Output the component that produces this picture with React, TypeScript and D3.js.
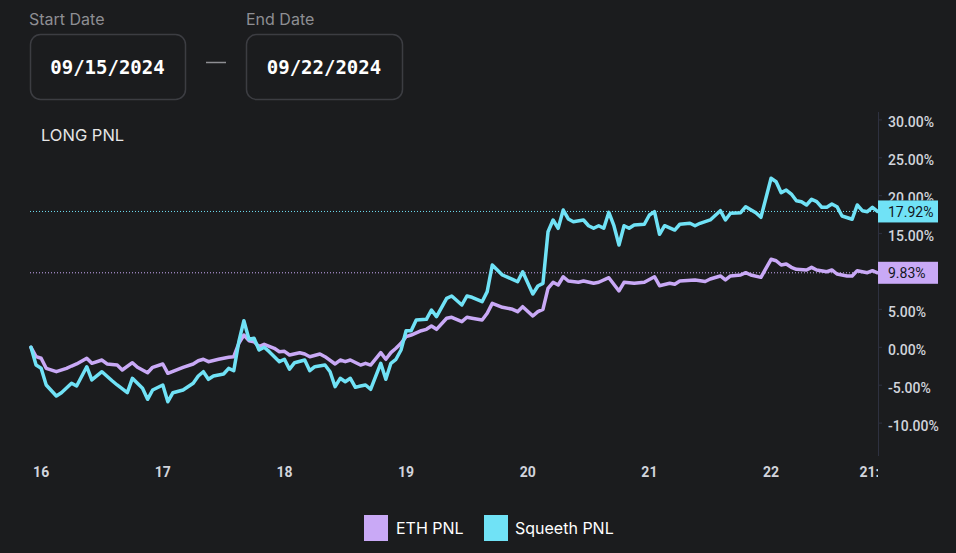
import React from "react";
import * as d3 from "d3";

// Hours since 2024-09-15 00:00 UTC, and PNL values in percent
const ethHours = [22,23,24,25,27,29,30,31,33,34,36,37,39,40,42,43,45,46,48,49,51,52,54,55,56,57,59,61,62,63,64,65,66,67,68,70,71,72,73,75,76,77,79,80,82,83,84,85,87,88,89,91,92,93,94,95,96,97,99,100,101,102,104,105,107,108,109,111,112,113,115,117,118,119,121,122,123,124,125,126,127,128,130,131,133,134,136,138,139,141,143,145,146,148,149,150,153,155,156,158,159,160,162,163,164,166,168,169,170,171,172,173,175,176,177,179,180,181,183,184,185,187,188,189];
const ethPnl = [0,-1.24,-1.45,-2.77,-3.22,-2.77,-2.47,-2.2,-1.45,-2.11,-1.68,-2.2,-2.34,-2.99,-2.03,-2.64,-3.35,-2.64,-2.2,-3.43,-2.9,-2.64,-2.2,-1.77,-1.58,-1.9,-1.58,-1.32,-1.24,0.53,1.62,0.87,0.74,0.08,0.4,-0.13,-0.58,-0.53,-1.02,-0.71,-0.88,-1.24,-0.88,-1.24,-2.2,-1.68,-1.9,-1.68,-2.34,-2.11,-2.34,-0.71,-1.58,-0.71,-0.13,0.53,1.4,1.62,2.19,2.37,2.81,2.37,3.83,3.96,3.38,3.96,3.83,3.6,4.49,5.8,5.28,5.01,4.7,5.36,4.13,4.7,5.01,7.78,8.58,8.22,9.31,8.75,8.58,8.75,8.44,8.58,9.18,7.43,8.58,8.44,8.58,9.31,8.13,8.44,8.31,8.75,8.88,8.68,9.01,9.41,8.88,9.41,9.54,9.84,9.54,9.23,11.61,11.42,10.86,10.99,10.55,10.29,10.2,10.55,10.2,9.97,10.2,9.67,9.41,9.41,10.11,9.84,10.11,9.83];

const sqHours = [22,23,24,25,27,28,30,31,33,34,36,38,39,41,42,44,45,46,48,49,50,52,54,55,56,57,58,60,61,62,63,64,65,66,67,68,69,71,72,73,74,76,77,78,80,81,82,83,84,85,86,87,88,89,91,92,93,94,95,96,97,98,100,101,102,104,105,107,108,109,111,112,113,115,117,118,119,121,122,123,124,125,126,127,128,129,131,132,133,134,135,136,137,138,139,140,141,143,144,145,146,147,149,150,152,153,154,156,158,159,160,162,163,165,166,168,169,170,171,172,173,174,175,176,177,178,179,180,181,182,184,185,186,187,188,189];
const sqPnl = [0,-2.34,-2.77,-4.97,-6.42,-5.99,-4.75,-5.11,-2.56,-4.31,-3.22,-4.41,-4.97,-5.99,-4.09,-5.41,-6.86,-5.63,-4.97,-7.18,-5.99,-5.63,-4.75,-3.79,-3.22,-4.22,-3.79,-3.52,-2.77,-3.09,0.74,3.51,1.06,1.19,-0.36,0,-0.58,-1.9,-1.58,-2.9,-2.03,-1.68,-3.09,-2.56,-2.34,-3.22,-5.2,-4.09,-4.54,-4.09,-5.28,-5.11,-4.97,-5.54,-2.11,-4.22,-2.11,-1.58,-0.36,2.19,2.19,3.6,3.69,4.92,4.04,6.46,6.77,5.58,6.77,6.6,6.02,7.34,10.86,9.54,8.97,8.65,9.97,7.03,8.09,8.44,15.25,16.79,15.7,18.11,16.93,16.57,16.79,16.04,15.7,16.04,15.7,17.81,16.04,13.5,16.04,15.7,16.13,16.23,17.45,17.89,14.91,16.04,15.47,16.23,16.36,16.04,16.36,16.8,18.02,16.79,17.68,17.76,18.55,17.76,17.15,22.3,21.85,20.4,20.75,20.22,19.34,19.21,18.77,19.53,19.21,18.47,18.47,18.9,18.55,17.32,16.89,18.77,18.02,17.89,18.47,17.92];

const xTickHours = [24, 48, 72, 96, 120, 144, 168, 189];
const xTickLabels = ["16", "17", "18", "19", "20", "21", "22", "21:00"];
const yTicks = [-10, -5, 0, 5, 10, 15, 20, 25, 30];
const seriesNames = ["ETH PNL", "Squeeth PNL"];
const startDate = "09/15/2024";
const endDate = "09/22/2024";
const chartTitle = "LONG PNL";

const BASE = Date.UTC(2024, 8, 15);
const toDate = (h: number) => new Date(BASE + h * 3600 * 1000);

const BG = "#1b1c1e";
const ETH_COLOR = "#c9a9f6";
const SQ_COLOR = "#70e2f6";
const AXIS_COLOR = "#2e3140";
const TEXT_COLOR = "#d1d4dc";

export default function App() {
  const W = 956, H = 553;
  const axisX = 878;
  const eth = ethHours.map((h, i) => ({ t: toDate(h), v: ethPnl[i] }));
  const sq = sqHours.map((h, i) => ({ t: toDate(h), v: sqPnl[i] }));
  const allT = [...eth, ...sq].map(d => d.t);
  const x = d3.scaleUtc().domain(d3.extent(allT) as [Date, Date]).range([31, 877.5]);
  const y = d3.scaleLinear().domain([0, 30]).range([347.3, 119.9]);
  const line = d3.line<{ t: Date; v: number }>().x(d => x(d.t)).y(d => y(d.v)).curve(d3.curveLinear);

  const lastEth = eth[eth.length - 1].v;
  const lastSq = sq[sq.length - 1].v;
  const font = "Inter, 'Noto Sans', sans-serif";
  const axisFont = "Roboto, 'Noto Sans', sans-serif";

  // price label boxes; tick labels fully hidden by a box are skipped, partly hidden ones are clipped
  const boxes = [y(lastSq) - 11, y(lastEth) - 11];
  const tickInfo = yTicks.map(t => {
    const c = y(t) + 2.5;
    const top = c - 7, bottom = c + 7;
    let hidden = false;
    let clipBottom: number | null = null;
    boxes.forEach(b => {
      const bTop = b, bBot = b + 22;
      if (top >= bTop - 3 && bottom <= bBot + 3) hidden = true;
      else if (bottom > bTop && top < bTop) clipBottom = bTop;
    });
    return { t, c, hidden, clipBottom };
  });

  return (
    <div style={{ position: "fixed", left: 0, top: 0, width: W, height: H, background: BG }}>
      <svg width={W} height={H} style={{ display: "block" }}>
        <defs>
          <clipPath id="xaxisClip">
            <rect x={0} y={440} width={axisX} height={60} />
          </clipPath>
          {tickInfo.filter(d => d.clipBottom !== null).map(d => (
            <clipPath key={d.t} id={`tickClip${d.t}`}>
              <rect x={axisX} y={0} width={80} height={d.clipBottom as number} />
            </clipPath>
          ))}
        </defs>
        <rect width={W} height={H} fill={BG} />

        {/* Date pickers */}
        <text x={29} y={25} fontFamily={font} fontSize={16} fill="#8e8e93">Start Date</text>
        <text x={246} y={25} fontFamily={font} fontSize={16} fill="#8e8e93">End Date</text>
        <rect x={30.5} y={34.5} width={155} height={65} rx={10} fill="none" stroke="#3c3d42" strokeWidth={1.5} />
        <rect x={246.5} y={34.5} width={156} height={65} rx={10} fill="none" stroke="#3c3d42" strokeWidth={1.5} />
        <text x={107.5} y={67} textAnchor="middle" dominantBaseline="central" fontFamily="'DejaVu Sans Mono', monospace" fontWeight="bold" fontSize={19} fill="#ffffff">{startDate}</text>
        <text x={324} y={67} textAnchor="middle" dominantBaseline="central" fontFamily="'DejaVu Sans Mono', monospace" fontWeight="bold" fontSize={19} fill="#ffffff">{endDate}</text>
        <line x1={206} x2={226} y1={62.5} y2={62.5} stroke="#8e8e93" strokeWidth={1.5} />

        <text x={41} y={135} dominantBaseline="central" fontFamily={font} fontSize={16.5} fill="#e6e6e6">{chartTitle}</text>

        {/* last value dotted lines */}
        <line x1={30} x2={axisX} y1={y(lastSq)} y2={y(lastSq)} stroke={SQ_COLOR} strokeWidth={1} strokeDasharray="1 2" />
        <line x1={30} x2={axisX} y1={y(lastEth)} y2={y(lastEth)} stroke={ETH_COLOR} strokeWidth={1} strokeDasharray="1 2" />

        {/* series */}
        <path d={line(eth) || ""} fill="none" stroke={ETH_COLOR} strokeWidth={3.5} strokeLinejoin="round" strokeLinecap="round" />
        <path d={line(sq) || ""} fill="none" stroke={SQ_COLOR} strokeWidth={3.5} strokeLinejoin="round" strokeLinecap="round" />

        {/* right axis */}
        <line x1={axisX + 0.5} x2={axisX + 0.5} y1={112} y2={456} stroke={AXIS_COLOR} strokeWidth={1} />
        {tickInfo.map(d => (
          <g key={d.t}>
            <line x1={axisX} x2={axisX + 4} y1={y(d.t)} y2={y(d.t)} stroke={AXIS_COLOR} />
            {!d.hidden && (
              <text x={888} y={d.c} dominantBaseline="central" fontFamily={axisFont} fontWeight={500} fontSize={14} fill={TEXT_COLOR}
                clipPath={d.clipBottom !== null ? `url(#tickClip${d.t})` : undefined}>{`${d.t.toFixed(2)}%`}</text>
            )}
          </g>
        ))}

        {/* price labels */}
        <rect x={axisX} y={y(lastSq) - 11} width={60} height={22} fill={SQ_COLOR} />
        <text x={888} y={y(lastSq) + 0.5} dominantBaseline="central" fontFamily={axisFont} fontSize={14} fill="#131722">{`${lastSq.toFixed(2)}%`}</text>
        <rect x={axisX} y={y(lastEth) - 11} width={60} height={22} fill={ETH_COLOR} />
        <text x={888} y={y(lastEth) + 0.5} dominantBaseline="central" fontFamily={axisFont} fontSize={14} fill="#131722">{`${lastEth.toFixed(2)}%`}</text>

        {/* x axis labels */}
        <g clipPath="url(#xaxisClip)">
          {xTickHours.map((h, i) => (
            <text key={h} x={x(toDate(h))} y={472} textAnchor="middle" dominantBaseline="central" fontFamily={axisFont} fontWeight={700} fontSize={14} fill={TEXT_COLOR}>{xTickLabels[i]}</text>
          ))}
        </g>

        {/* legend */}
        <rect x={364} y={515} width={24} height={26} fill={ETH_COLOR} />
        <text x={396} y={528} dominantBaseline="central" fontFamily={font} fontSize={16} fill="#ffffff">{seriesNames[0]}</text>
        <rect x={484} y={515} width={24} height={26} fill={SQ_COLOR} />
        <text x={515} y={528} dominantBaseline="central" fontFamily={font} fontSize={16} fill="#ffffff">{seriesNames[1]}</text>
      </svg>
    </div>
  );
}
